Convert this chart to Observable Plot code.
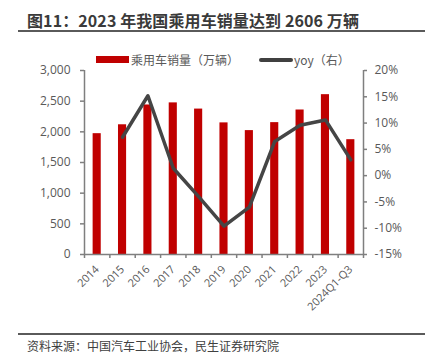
<!DOCTYPE html>
<html>
<head>
<meta charset="utf-8">
<script src="https://cdn.jsdelivr.net/npm/d3@7"></script>
<script src="https://cdn.jsdelivr.net/npm/@observablehq/plot@0.6"></script>
<style>
  html, body { margin: 0; padding: 0; background: #fff; }
  body { width: 430px; height: 360px; position: relative; overflow: hidden; font-family: "Noto Sans CJK SC", sans-serif; }
  #title { position: absolute; left: 27px; top: 8px; font-size: 16px; font-weight: bold; color: #3a3a3a; white-space: nowrap; letter-spacing: 0.1px; }
  #titleLine { position: absolute; left: 18px; top: 30px; width: 407px; height: 2px; background: #5a5a5a; }
  #legend { position: absolute; left: 0; top: 50px; width: 430px; height: 20px; font-size: 12px; color: #595959; }
  .sw { position: absolute; }
  .lt { position: absolute; top: 0; line-height: 20px; white-space: nowrap; }
  #chart { position: absolute; left: 0; top: 62px; }
  #capLine { position: absolute; left: 18px; top: 333px; width: 407px; height: 2px; background: #5a5a5a; }
  #caption { position: absolute; left: 27px; top: 338px; font-size: 12px; color: #404040; white-space: nowrap; line-height: 16px; }
</style>
</head>
<body>
<div id="title"></div>
<div id="titleLine"></div>
<div id="legend">
  <div class="sw" style="left:96px; top:6px; width:33px; height:7px; background:#C00000;"></div>
  <div class="lt" id="leg1" style="left:131px;"></div>
  <div class="sw" style="left:259px; top:8px; width:34px; height:4px; background:#404040; border-radius:2px;"></div>
  <div class="lt" id="leg2" style="left:294px;"></div>
</div>
<div id="chart"></div>
<div id="capLine"></div>
<div id="caption"></div>
<script>
// ---- data ----
const titleText = "图11：2023 年我国乘用车销量达到 2606 万辆";
const seriesNames = ["乘用车销量（万辆）", "yoy（右）"];
const captionText = "资料来源：中国汽车工业协会，民生证券研究院";
const categories = ["2014", "2015", "2016", "2017", "2018", "2019", "2020", "2021", "2022", "2023", "2024Q1-Q3"];
const sales = [1970, 2115, 2438, 2472, 2371, 2146, 2020, 2150, 2356, 2606, 1872];
const yoy = [null, 7.3, 15.2, 1.4, -4.0, -9.6, -6.0, 6.5, 9.6, 10.6, 3.0];
const leftTicks = [0, 500, 1000, 1500, 2000, 2500, 3000];
const rightTicks = [-15, -10, -5, 0, 5, 10, 15, 20];
const leftDomain = [0, 3000];
const rightDomain = [-15, 20];

document.getElementById("title").textContent = titleText;
document.getElementById("leg1").textContent = seriesNames[0];
document.getElementById("leg2").textContent = seriesNames[1];
document.getElementById("caption").textContent = captionText;

const toLeft = v => leftDomain[0] + (v - rightDomain[0]) / (rightDomain[1] - rightDomain[0]) * (leftDomain[1] - leftDomain[0]);
const table = categories.map((c, i) => ({i, cat: c, sales: sales[i], yoy: yoy[i]}));
const lineData = table.filter(d => d.yoy != null);
const centers = categories.map((c, i) => i);
const bounds = categories.map((c, i) => i - 0.5).concat([categories.length - 0.5]);
const halfBar = 0.16;
const axisColor = "#7f7f7f";

const chart = Plot.plot({
  width: 430,
  height: 263,
  marginLeft: 84,
  marginRight: 67,
  marginTop: 8,
  marginBottom: 71,
  x: {type: "linear", domain: [-0.5, categories.length - 0.5]},
  y: {domain: leftDomain},
  style: {fontFamily: "'Open Sans', 'Noto Sans CJK SC', sans-serif", fontSize: "12px", color: "#595959", background: "transparent"},
  marks: [
    Plot.rectY(table, {x1: d => d.i - halfBar, x2: d => d.i + halfBar, y: "sales", fill: "#C00000"}),
    Plot.line(lineData, {x: "i", y: d => toLeft(d.yoy), stroke: "#454545", strokeWidth: 3.5}),
    Plot.ruleY([leftDomain[0]], {stroke: axisColor, strokeWidth: 1.5}),
    Plot.ruleX([-0.5, categories.length - 0.5], {stroke: axisColor, strokeWidth: 1.5}),
    Plot.axisY({ticks: leftTicks, tickFormat: d3.format(","), tickSize: 4, tickPadding: 10, stroke: axisColor, strokeWidth: 1.5, fill: "#595959", fontSize: 12, label: null}),
    Plot.axisY({anchor: "right", ticks: rightTicks.map(toLeft), tickFormat: (d, i) => rightTicks[i] + "%", tickSize: 3, tickPadding: 8, stroke: axisColor, strokeWidth: 1.5, fill: "#595959", fontSize: 12, label: null}),
    Plot.axisX({ticks: bounds, tickSize: 4, tickFormat: () => "", stroke: axisColor, strokeWidth: 1.5, label: null}),
    Plot.axisX({ticks: centers, tickSize: 0, tickPadding: 13, tickRotate: -45, tickFormat: (d, i) => categories[i], fill: "#595959", fontSize: 11, label: null})
  ]
});
document.getElementById("chart").appendChild(chart);
</script>
</body>
</html>
